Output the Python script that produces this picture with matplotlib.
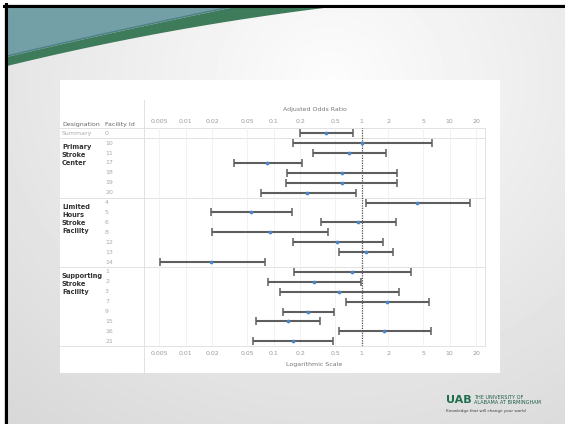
import numpy as np
import matplotlib.pyplot as plt
from matplotlib.transforms import blended_transform_factory
from matplotlib.patches import Rectangle, Polygon

# forest plot data: adjusted odds ratio and 95% CI per facility
facility_ids = ['0', '10', '11', '17', '18', '19', '20',
                '4', '5', '6', '8', '12', '13', '14',
                '1', '2', '3', '7', '9', '15', '16', '21']
odds = [0.39, 1.0, 0.72, 0.084, 0.59, 0.59, 0.24,
        4.3, 0.055, 0.90, 0.091, 0.53, 1.12, 0.0194,
        0.77, 0.287, 0.55, 1.92, 0.248, 0.144, 1.81, 0.164]
ci_low = [0.199, 0.164, 0.282, 0.0354, 0.143, 0.139, 0.0717,
          1.12, 0.0194, 0.342, 0.020, 0.167, 0.548, 0.00514,
          0.169, 0.0855, 0.119, 0.663, 0.126, 0.0629, 0.556, 0.0586]
ci_high = [0.79, 6.24, 1.87, 0.208, 2.50, 2.54, 0.855,
           17.0, 0.160, 2.45, 0.418, 1.73, 2.29, 0.0796,
           3.63, 0.99, 2.63, 5.77, 0.481, 0.333, 6.13, 0.468]
group_names = ['Primary\nStroke\nCenter', 'Limited\nHours\nStroke\nFacility',
               'Supporting\nStroke\nFacility']
group_start = [1, 7, 14]
separators = [-0.5, 0.5, 6.5, 13.5, 21.5]
ticks = [0.005, 0.01, 0.02, 0.05, 0.1, 0.2, 0.5, 1, 2, 5, 10, 20]
tick_labels = ['0.005', '0.01', '0.02', '0.05', '0.1', '0.2', '0.5', '1', '2', '5', '10', '20']

W, H = 565, 424
fig = plt.figure(figsize=(W / 100, H / 100), dpi=100)

# slide background in pixel coordinates
bg = fig.add_axes([0, 0, 1, 1])
bg.set_xlim(0, W)
bg.set_ylim(H, 0)
bg.axis('off')
yy, xx = np.mgrid[0:H, 0:W]
r = np.hypot((xx - 330) / 450, (yy - 80) / 400)
bg.imshow(0.99 - 0.13 * np.clip(r, 0, 1.2), cmap='gray', vmin=0, vmax=1,
          extent=(0, W, H, 0), aspect='auto', zorder=0)


def bez(p0, p1, p2, n=40):
    t = np.linspace(0, 1, n)[:, None]
    return (1 - t) ** 2 * np.array(p0) + 2 * (1 - t) * t * np.array(p1) + t ** 2 * np.array(p2)


upper = bez((7, 57), (99, 35), (235, 7))
lower = bez((7, 66), (167, 27), (332, 7))
teal = np.vstack([[[7, 7]], upper, [[7, 7]]])
bg.add_patch(Polygon(teal, closed=True, fc='#72a0a6', ec='none', zorder=1))
bg.plot(upper[:, 0], upper[:, 1] - 1, color='#4f8088', lw=1, zorder=1)
band = np.vstack([lower, upper[::-1]])
bg.add_patch(Polygon(band, closed=True, fc='#3d7b5b', ec='none', zorder=1))

# frame
bg.add_patch(Rectangle((0, 0), W, 4, fc='white', ec='none', zorder=2))
bg.add_patch(Rectangle((0, 0), 4, H, fc='white', ec='none', zorder=2))
bg.plot([4, W], [5.5, 5.5], color='black', lw=2.2, zorder=3)
bg.plot([5.5, 5.5], [4, H], color='black', lw=2.2, zorder=3)

# white chart panel and layout lines
bg.add_patch(Rectangle((60, 80), 440, 293, fc='white', ec='none', zorder=1))
bg.plot([144, 144], [100, 373], color='#e2e2e2', lw=0.7, zorder=2)

# logo
bg.text(446, 400, 'UAB', fontsize=8, fontweight='heavy', color='#1e6e4e',
        va='center', ha='left')
bg.text(474, 397.5, 'THE UNIVERSITY OF', fontsize=3.6, color='#1e5e44', va='center')
bg.text(474, 402.5, 'ALABAMA AT BIRMINGHAM', fontsize=3.6, color='#1e5e44', va='center')
bg.text(446, 411, 'Knowledge that will change your world', fontsize=3, color='#444444',
        va='center')

# forest plot axes
ax = fig.add_axes([144 / W, 1 - 346.2 / H, (485 - 144) / W, (346.2 - 128.3) / H])
ax.patch.set_alpha(0)
rows = np.arange(len(facility_ids))
odds_a = np.array(odds)
err = [odds_a - np.array(ci_low), np.array(ci_high) - odds_a]
ax.errorbar(odds_a, rows, xerr=err, fmt='o', ms=1.7, mfc='#4a86c8', mec='#4a86c8',
            ecolor='#5e5e5e', elinewidth=1.5, capsize=3.2, capthick=1.1, zorder=3)
ax.axvline(1, color='#555555', ls=(0, (1, 1)), lw=0.9, zorder=2)
ax.set_xscale('log')
ax.set_xlim(0.00336, 25.2)
ax.set_ylim(21.5, -0.5)
ax.set_yticks([])
ax.set_xticks(ticks, tick_labels)
ax.minorticks_off()
ax.tick_params(axis='x', length=0, pad=3.8, labelsize=4.5, labelcolor='#9a9a9a')
ax.grid(axis='x', color='#f0f0f0', lw=0.6, zorder=0)
for s in ['top', 'bottom', 'left']:
    ax.spines[s].set_visible(False)
ax.spines['right'].set_color('#e2e2e2')
ax.spines['right'].set_linewidth(0.7)

top = ax.secondary_xaxis('top')
top.set_xticks(ticks, tick_labels)
top.minorticks_off()
top.tick_params(length=0, pad=3, labelsize=4.5, labelcolor='#9a9a9a')
top.spines['top'].set_visible(False)

ax.text(0.5, 1.087, 'Adjusted Odds Ratio', transform=ax.transAxes, ha='center',
        va='center', fontsize=4.5, color='#777777')
ax.text(0.5, -0.086, 'Logarithmic Scale', transform=ax.transAxes, ha='center',
        va='center', fontsize=4.5, color='#777777')

# row labels on the left (x in slide pixels, y in rows)
lab = blended_transform_factory(bg.transData, ax.transData)
ax.text(62, -0.9, 'Designation', transform=lab, fontsize=4.5, color='#666666', va='center')
ax.text(105, -0.9, 'Facility Id', transform=lab, fontsize=4.5, color='#666666', va='center')
ax.text(62, 0, 'Summary', transform=lab, fontsize=4.5, color='#aaaaaa', va='center')
for i, fid in enumerate(facility_ids):
    ax.text(105, i, fid, transform=lab, fontsize=4.5, color='#aaaaaa', va='center')
for name, start in zip(group_names, group_start):
    ax.text(62, start + 0.1, name, transform=lab, fontsize=4.8, fontweight='bold',
            color='#333333', va='top', linespacing=1.42)
for s in separators:
    ax.plot([60, 485], [s, s], transform=lab, color='#e2e2e2', lw=0.7, clip_on=False, zorder=1)

fig.savefig('out.png', dpi=100)
